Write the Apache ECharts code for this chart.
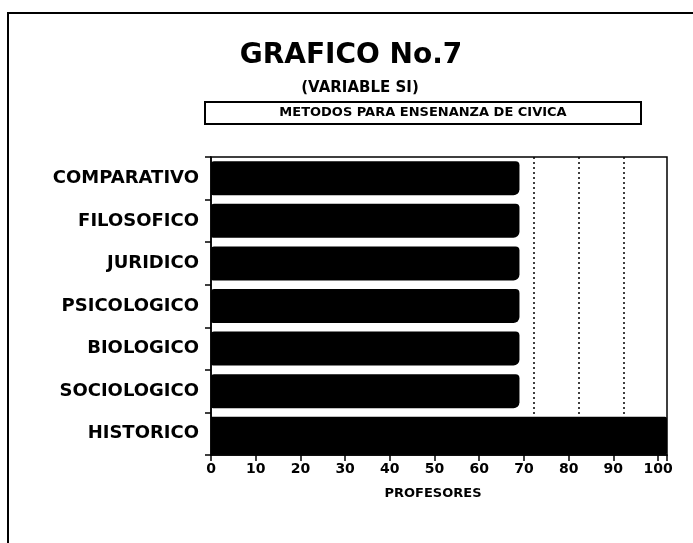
<!DOCTYPE html>
<html>
<head>
<meta charset="utf-8">
<script src="https://cdn.jsdelivr.net/npm/echarts@6/dist/echarts.min.js"></script>
<style>
html,body{margin:0;padding:0;background:#fff;}
#chart{width:693px;height:543px;}
</style>
</head>
<body>
<div id="chart"></div>
<script>
// ---- data ----
const categories = ['COMPARATIVO','FILOSOFICO','JURIDICO','PSICOLOGICO','BIOLOGICO','SOCIOLOGICO','HISTORICO'];
const mainValues = [69, 69, 69, 69, 69, 69, '-'];
const historicoValues = ['-', '-', '-', '-', '-', '-', 102];
const xTickValues = [0,10,20,30,40,50,60,70,80,90,100];
const dashedGridValues = [70, 80, 90];
const titleText = 'GRAFICO No.7';
const subtitleText = '(VARIABLE SI)';
const boxText = 'METODOS PARA ENSENANZA DE CIVICA';
const axisNameText = 'PROFESORES';

// ---- style constants ----
const FONT = '"DejaVu Sans", "Liberation Sans", sans-serif';
const depthShift = 2.3; // pseudo-3D offset of back grid lines

const chart = echarts.init(document.getElementById('chart'), null, {renderer: 'canvas'});

const option = {
  backgroundColor: '#fff',
  animation: false,
  graphic: [
    { type: 'polyline', shape: { points: [[8, 560], [8, 13], [700, 13]] },
      style: { stroke: '#000', lineWidth: 2, fill: null } },
    { type: 'text', x: 351, y: 56, style: { text: titleText, font: 'bold 28px ' + FONT, fill: '#000', align: 'center', verticalAlign: 'middle' } },
    { type: 'text', x: 360, y: 88, style: { text: subtitleText, font: 'bold 15px ' + FONT, fill: '#000', align: 'center', verticalAlign: 'middle' } },
    { type: 'rect', shape: { x: 205, y: 102, width: 436, height: 22 },
      style: { stroke: '#000', lineWidth: 2, fill: '#fff' } },
    { type: 'text', x: 423, y: 113, style: { text: boxText, font: 'bold 13px ' + FONT, fill: '#000', align: 'center', verticalAlign: 'middle' } }
  ],
  grid: {
    left: 211, right: 26, top: 157, bottom: 88,
    show: true, borderColor: '#000', borderWidth: 1.5, backgroundColor: 'transparent'
  },
  xAxis: {
    type: 'value', min: 0, max: 102, interval: 10,
    name: axisNameText, nameLocation: 'middle', nameGap: 32,
    nameTextStyle: { fontFamily: FONT, fontWeight: 'bold', fontSize: 13, color: '#000', padding: [0, 12, 0, 0] },
    axisLine: { show: true, lineStyle: { color: '#000', width: 1.5 } },
    axisTick: { show: true, length: 6, lineStyle: { color: '#000', width: 1.5 } },
    axisLabel: {
      color: '#000', fontFamily: FONT, fontWeight: 'bold', fontSize: 14, margin: 7,
      formatter: v => (xTickValues.indexOf(v) >= 0 ? String(v) : '')
    },
    splitLine: { show: false }
  },
  yAxis: {
    type: 'category', data: categories, inverse: true,
    axisLine: { show: true, lineStyle: { color: '#000', width: 1.5 } },
    axisTick: { show: true, length: 6, lineStyle: { color: '#000', width: 1.5 } },
    axisLabel: { color: '#000', fontFamily: FONT, fontWeight: 'bold', fontSize: 18, margin: 12 },
    splitLine: { show: false }
  },
  series: [
    {
      type: 'line', data: [], z: 1, silent: true,
      markLine: {
        symbol: 'none', silent: true, label: { show: false },
        lineStyle: { color: '#000', type: [2, 3], width: 1.5 },
        data: dashedGridValues.map(v => ({ xAxis: v + depthShift }))
      }
    },
    {
      name: 'historico', type: 'bar', data: historicoValues, barWidth: 38, barGap: '-100%', z: 3,
      itemStyle: { color: '#000', borderRadius: [0, 2, 2, 0] }
    },
    {
      name: 'main', type: 'bar', data: mainValues, barWidth: 34, z: 3,
      itemStyle: { color: '#000', borderRadius: [3, 4, 6, 2] }
    }
  ]
};
chart.setOption(option);
</script>
</body>
</html>
